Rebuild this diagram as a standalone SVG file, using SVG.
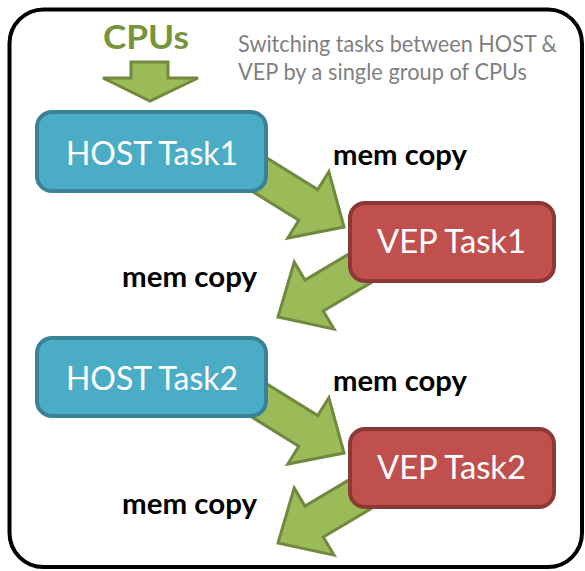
<svg xmlns="http://www.w3.org/2000/svg" width="585" height="571" viewBox="0 0 585 571">
<defs>
<style>
.frame{fill:#fff;stroke:#000;stroke-width:4}
.host{fill:#4BACC6;stroke:#3A8298;stroke-width:4}
.vep{fill:#C0504D;stroke:#8C3836;stroke-width:4}
.arrow{fill:#9BBB59;stroke:#71893F;stroke-width:3;stroke-linejoin:miter}
.lbl{font-family:Lato,"Liberation Sans",Arial,sans-serif;font-size:33px;fill:#fff}
.mem{font-family:Lato,"Liberation Sans",Arial,sans-serif;font-size:28px;font-weight:bold;fill:#000}
.note{font-family:Lato,"Liberation Sans",Arial,sans-serif;font-size:23px;fill:#7F7F7F}
.cpus{font-family:Lato,"Liberation Sans",Arial,sans-serif;font-size:33px;font-weight:bold;fill:#77933C}
</style>
<path id="blk" d="M0,0 L-42,-39 L-42,-18 L-152,-18 L-152,18 L-42,18 L-42,39 Z"/>
</defs>
<rect class="frame" x="9.5" y="9.5" width="572.5" height="557.5" rx="34"/>
<g id="connectors">
<use href="#blk" class="arrow" transform="translate(344,227) rotate(31.8)"/>
<use href="#blk" class="arrow" transform="translate(278,317) rotate(149.3)"/>
<use href="#blk" class="arrow" transform="translate(344,453) rotate(31.8)"/>
<use href="#blk" class="arrow" transform="translate(278,543) rotate(149.3)"/>
<text class="mem" x="333" y="165" textLength="134" lengthAdjust="spacingAndGlyphs">mem copy</text>
<text class="mem" x="122" y="287" textLength="135" lengthAdjust="spacingAndGlyphs">mem copy</text>
<text class="mem" x="333" y="391" textLength="134" lengthAdjust="spacingAndGlyphs">mem copy</text>
<text class="mem" x="122" y="514" textLength="135" lengthAdjust="spacingAndGlyphs">mem copy</text>
</g>
<g id="cpus">
<text class="cpus" x="103" y="49" textLength="86" lengthAdjust="spacingAndGlyphs">CPUs</text>
<path class="arrow" stroke-width="2.5" d="M131,62 L168,62 L168,78 L198,78 L150,101 L103,78 L131,78 Z"/>
</g>
<g id="note">
<text class="note" x="238" y="52" textLength="319" lengthAdjust="spacingAndGlyphs">Switching tasks between HOST &amp;</text>
<text class="note" x="238" y="80" textLength="289" lengthAdjust="spacingAndGlyphs">VEP by a single group of CPUs</text>
</g>
<g id="host1">
<rect class="host" x="37" y="112" width="229" height="79" rx="15"/>
<text class="lbl" x="66" y="165" textLength="172" lengthAdjust="spacingAndGlyphs">HOST Task1</text>
</g>
<g id="vep1">
<rect class="vep" x="350" y="203" width="204" height="78" rx="15"/>
<text class="lbl" x="377" y="253" textLength="149" lengthAdjust="spacingAndGlyphs">VEP Task1</text>
</g>
<g id="host2">
<rect class="host" x="37" y="338" width="229" height="78" rx="15"/>
<text class="lbl" x="66" y="390" textLength="172" lengthAdjust="spacingAndGlyphs">HOST Task2</text>
</g>
<g id="vep2">
<rect class="vep" x="350" y="429" width="204" height="78" rx="15"/>
<text class="lbl" x="377" y="479" textLength="149" lengthAdjust="spacingAndGlyphs">VEP Task2</text>
</g>
</svg>
